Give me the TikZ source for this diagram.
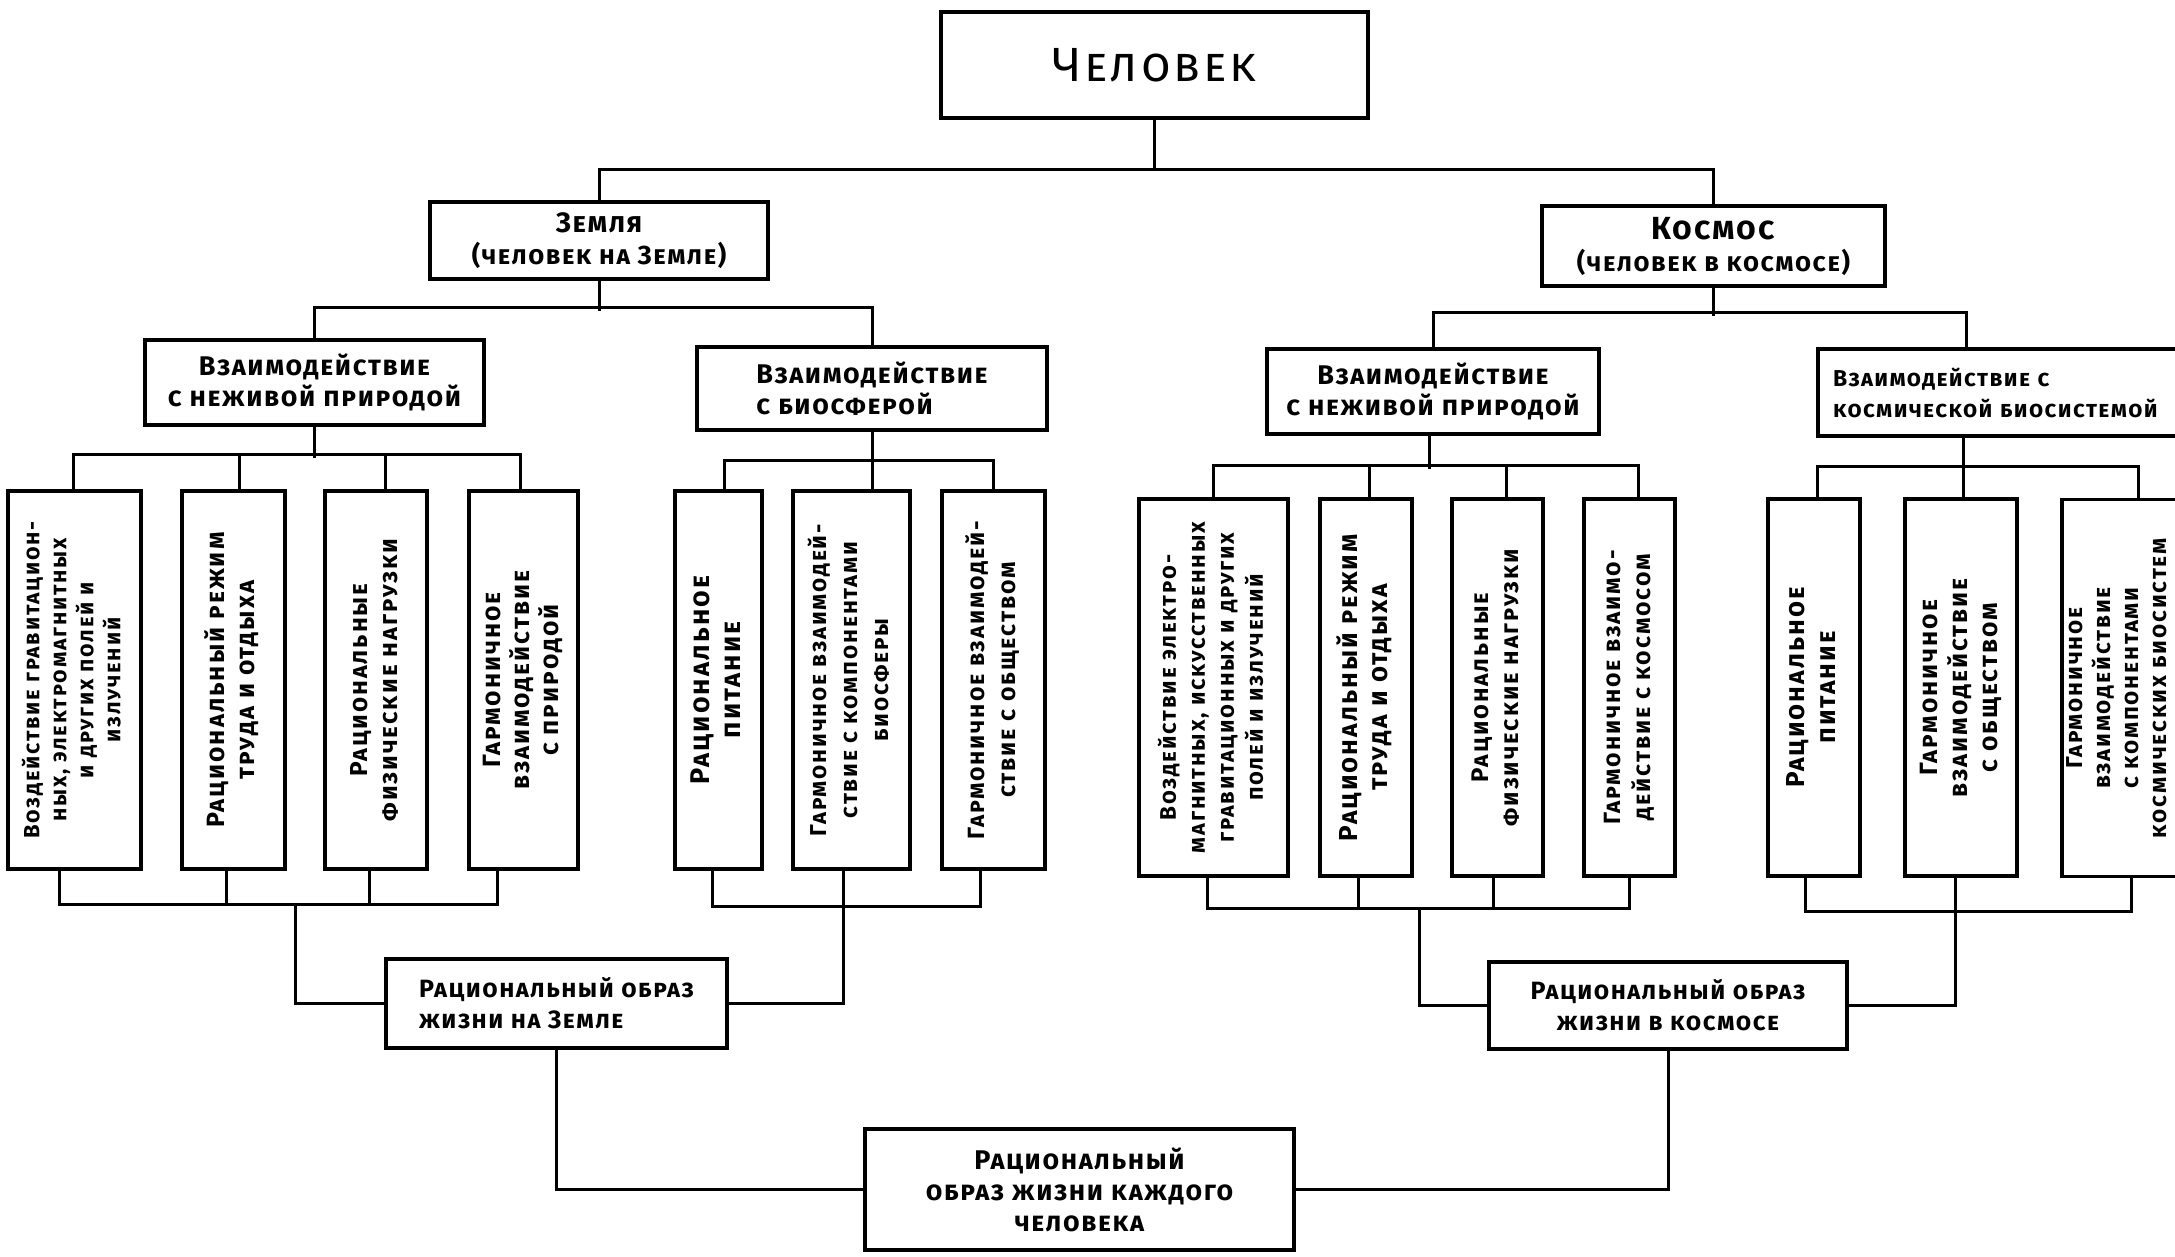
\documentclass[tikz,border=0pt]{standalone}
\usepackage{fontspec}
\setmainfont{Fira Sans}[Letters=SmallCaps, LetterSpace=6]
\newfontfamily\vfont{Fira Sans}[Letters=SmallCaps, LetterSpace=8]
\usepackage{graphicx}
\newcommand\vtext[3]{\rotatebox{90}{\vfont\bfseries\fontsize{#1}{#2}\selectfont\begin{tabular}{@{}c@{}}#3\end{tabular}}}
\begin{document}
\begin{tikzpicture}[x=1pt,y=-1pt,
  box/.style={draw, line width=3.5pt, inner sep=0pt, align=center},
  hf/.style={font=\bfseries\fontsize{27}{31}\selectfont},
  bf/.style={font=\bfseries\fontsize{25}{31}\selectfont},
  vbE/.style={box, minimum height=378pt},
  vbS/.style={box, minimum height=377pt},
  conn/.style={line width=3pt}]
\useasboundingbox (0,0) rectangle (2175,1256);
\clip (0,0) rectangle (2175,1256);
\fill[white] (0,0) rectangle (2175,1256);

% top levels
\node[box, minimum width=427pt, minimum height=106pt, font=\fontsize{48}{52}\selectfont] (chel) at (1154.5,65) {Человек};
\node[box, minimum width=338pt, minimum height=77pt, font=\bfseries\fontsize{26}{32}\selectfont] (zem) at (599,240.5) {{\fontsize{28}{30}\selectfont Земля}\\(человек на Земле)};
\node[box, minimum width=343pt, minimum height=80pt, font=\bfseries\fontsize{26}{32}\selectfont] (kos) at (1713.5,246) {{\fontsize{32}{34}\selectfont Космос}\\(человек в космосе)};
\node[box, hf, minimum width=339pt, minimum height=85pt] (zneg) at (314.5,382.5) {Взаимодействие\\с неживой природой};
\node[box, hf, minimum width=350pt, minimum height=83pt, align=left] (zbio) at (872,388.5) {Взаимодействие\\с биосферой};
\node[box, hf, minimum width=332pt, minimum height=85pt] (kneg) at (1433,391.5) {Взаимодействие\\с неживой природой};
\node[box, minimum width=382pt, minimum height=87pt, text width=352pt, align=left, font=\bfseries\fontsize{23}{31}\selectfont] (kbio) at (2009,392.5) {Взаимодействие с\\космической биосистемой};

% Earth vertical boxes
\node[vbE, minimum width=133pt] (e1) at (74.5,680) {\vtext{22}{27}{Воздействие гравитацион-\\ных, электромагнитных\\и других полей и\\излучений}};
\node[vbE, minimum width=103pt] (e2) at (233.5,680) {\vtext{25}{30}{Рациональный режим\\труда и отдыха}};
\node[vbE, minimum width=102pt] (e3) at (376,680) {\vtext{24.5}{30}{Рациональные\\физические нагрузки}};
\node[vbE, minimum width=109pt] (e4) at (523.5,680) {\vtext{25}{29}{Гармоничное\\взаимодействие\\с природой}};
\node[vbE, minimum width=87pt] (e5) at (718.5,680) {\vtext{27}{31}{Рациональное\\питание}};
\node[vbE, minimum width=117pt] (e6) at (851.5,680) {\vtext{23}{31}{Гармоничное взаимодей-\\ствие с компонентами\\биосферы}};
\node[vbE, minimum width=103pt] (e7) at (993.5,680) {\vtext{23.5}{31}{Гармоничное взаимодей-\\ствие с обществом}};

% Space vertical boxes
\node[vbS, minimum width=149pt] (s1) at (1213.5,687.5) {\vtext{22.5}{29}{Воздействие электро-\\магнитных, искусственных\\гравитационных и других\\полей и излучений}};
\node[vbS, minimum width=92pt] (s2) at (1366,687.5) {\vtext{26}{30}{Рациональный режим\\труда и отдыха}};
\node[vbS, minimum width=91pt] (s3) at (1497.5,687.5) {\vtext{24}{30}{Рациональные\\физические нагрузки}};
\node[vbS, minimum width=91pt] (s4) at (1629.5,687.5) {\vtext{23.5}{30}{Гармоничное взаимо-\\действие с космосом}};
\node[vbS, minimum width=92pt] (s5) at (1814,687.5) {\vtext{26}{31}{Рациональное\\питание}};
\node[vbS, minimum width=112pt] (s6) at (1961,687.5) {\vtext{25}{30}{Гармоничное\\взаимодействие\\с обществом}};
\node[vbS, minimum width=138pt] (s7) at (2131,688) {\vtext{23}{28}{Гармоничное\\взаимодействие\\с компонентами\\космических биосистем}\hspace*{24pt}};

% bottom boxes
\node[box, bf, minimum width=341pt, minimum height=89pt, align=left] (ze) at (556.5,1003.5) {Рациональный образ\\жизни на Земле};
\node[box, bf, minimum width=358pt, minimum height=87pt] (ke) at (1668,1005.5) {Рациональный образ\\жизни в космосе};
\node[box, minimum width=429pt, minimum height=121pt, font=\bfseries\fontsize{27}{31}\selectfont] (fin) at (1079.5,1189.5) {Рациональный\\образ жизни каждого\\человека};

\begin{scope}[conn]
\coordinate (b0) at (1154.5,171);
\draw (chel.south) -- (b0);
\draw (zem.north) -- ++(0,-31) -| (kos.north);
\draw (zem.south) -- ++(0,30);
\draw (zneg.north) -- ++(0,-31) -| (zbio.north);
\draw (kos.south) -- ++(0,28);
\draw (kneg.north) -- ++(0,-35) -| ([xshift=-43pt]kbio.north);
% Earth upper brackets
\draw (zneg.south) -- ++(0,31);
\draw ([xshift=-1.5pt]e1.north) -- ++(0,-35) -| ([xshift=-3.5pt]e4.north);
\draw ([xshift=5.5pt]e2.north) -- ++(0,-35);
\draw ([xshift=9pt]e3.north) -- ++(0,-35);
\draw (zbio.south) -- (zbio.south |- e6.north);
\draw ([xshift=5.5pt]e5.north) -- ++(0,-29) -| (e7.north);
% Space upper brackets
\draw ([xshift=-4pt]kneg.south) -- ++(0,33);
\draw (s1.north) -- ++(0,-32) -| ([xshift=8.5pt]s4.north);
\draw ([xshift=3pt]s2.north) -- ++(0,-32);
\draw ([xshift=8.5pt]s3.north) -- ++(0,-32);
\draw ([xshift=2pt]s6.north) -- ([xshift=2pt]s6.north |- kbio.south);
\draw ([xshift=3pt]s5.north) -- ++(0,-31) -| ([xshift=7pt]s7.north);
% Earth lower brackets
\draw ([xshift=-15.5pt]e1.south) -- ++(0,34) -| ([xshift=-26.5pt]e4.south);
\draw ([xshift=-7.5pt]e2.south) -- ++(0,34);
\draw ([xshift=-7pt]e3.south) -- ++(0,34);
\coordinate (eb) at (295,903);
\draw (eb) |- (ze.west);
\draw ([xshift=-6.5pt]e5.south) -- ++(0,36) -| ([xshift=-13.5pt]e7.south);
\draw ([xshift=-8.5pt]e6.south) |- (ze.east);
% Space lower brackets
\draw ([xshift=-6.5pt]s1.south) -- ++(0,31) -| (s4.south);
\draw ([xshift=-8pt]s2.south) -- ++(0,31);
\draw ([xshift=-4.5pt]s3.south) -- ++(0,31);
\coordinate (sb) at (1419,907);
\draw (sb) |- (ke.west);
\draw ([xshift=-9pt]s5.south) -- ++(0,34) -| (s7.south);
\draw ([xshift=-6pt]s6.south) |- (ke.east);
% final
\draw (ze.south) |- (fin.west);
\draw (ke.south) |- (fin.east);
\end{scope}
\end{tikzpicture}
\end{document}
